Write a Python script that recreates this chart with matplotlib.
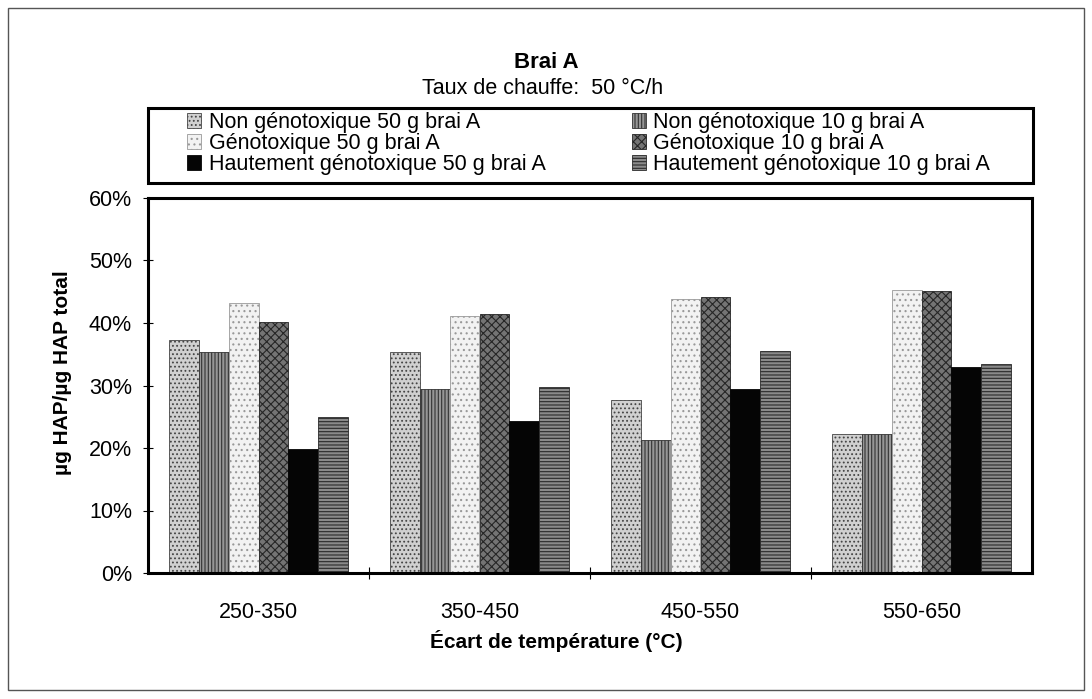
import matplotlib
matplotlib.use("Agg")
import matplotlib.pyplot as plt
from matplotlib.patches import Rectangle, Patch
import numpy as np

plt.rcParams['font.family'] = ['Liberation Sans', 'DejaVu Sans']
plt.rcParams['hatch.linewidth'] = 0.8

categories = ["250-350", "350-450", "450-550", "550-650"]
series_names = [
    "Non génotoxique 50 g brai A",
    "Non génotoxique 10 g brai A",
    "Génotoxique 50 g brai A",
    "Génotoxique 10 g brai A",
    "Hautement génotoxique 50 g brai A",
    "Hautement génotoxique 10 g brai A",
]
non_geno_50 = [37.2, 35.4, 27.7, 22.3]
non_geno_10 = [35.4, 29.4, 21.3, 22.2]
geno_50 = [43.2, 41.1, 43.8, 45.3]
geno_10 = [40.1, 41.4, 44.1, 45.1]
haut_geno_50 = [19.8, 24.3, 29.4, 33.0]
haut_geno_10 = [24.9, 29.8, 35.6, 33.4]
series = [non_geno_50, non_geno_10, geno_50, geno_10, haut_geno_50, haut_geno_10]

styles = [
    dict(fc='#d0d0d0', ec='#444444', hatch='....'),
    dict(fc='#969696', ec='#333333', hatch='|||||'),
    dict(fc='#f2f2f2', ec='#999999', hatch='...'),
    dict(fc='#747474', ec='#262626', hatch='xxxx'),
    dict(fc='#050505', ec='#050505', hatch=None),
    dict(fc='#8a8a8a', ec='#2a2a2a', hatch='-----'),
]

W, H = 1092, 699
fig = plt.figure(figsize=(W / 100, H / 100), dpi=100)

def fx(px):
    return px / W

def fy(py):
    return 1 - py / H

ax = fig.add_axes([fx(148), fy(573), fx(1032) - fx(148), fy(198) - fy(573)])

x = np.arange(len(categories))
bw = 0.135
handles = []
for i, (vals, st, name) in enumerate(zip(series, styles, series_names)):
    ax.bar(x + (i - 2.5) * bw, vals, bw, facecolor=st['fc'], edgecolor=st['ec'],
           hatch=st['hatch'], linewidth=0.6, zorder=2)
    handles.append(Patch(facecolor=st['fc'], edgecolor=st['ec'], hatch=st['hatch'],
                         linewidth=0.6, label=name))

ax.set_xlim(-0.5, len(categories) - 0.5)
ax.set_ylim(0, 60)
ax.set_yticks(np.arange(0, 61, 10))
ax.set_yticklabels([f"{v}%" for v in range(0, 61, 10)], fontsize=15.5)
ax.set_xticks(x)
ax.set_xticklabels(categories, fontsize=15.5)
ax.tick_params(axis='x', which='major', length=0, pad=21)
ax.set_xticks(np.arange(0.5, len(categories) - 1, 1.0), minor=True)
ax.tick_params(axis='x', which='minor', direction='inout', length=8, width=0.8)
ax.tick_params(axis='y', direction='inout', length=7, width=0.8, pad=8)
for s in ax.spines.values():
    s.set_linewidth(2.2)
    s.set_color('black')

fig.text(fx(63), fy(373), "µg HAP/µg HAP total", rotation=90, ha='center', va='center',
         fontsize=15, fontweight='bold')
fig.text(fx(556), fy(641), "Écart de température (°C)", ha='center', va='center',
         fontsize=15, fontweight='bold')

fig.text(fx(546), fy(62), "Brai A", ha='center', va='center', fontsize=16, fontweight='bold')
fig.text(fx(543), fy(89), "Taux de chauffe:  50 °C/h", ha='center', va='center', fontsize=15.5)

# legend box
fig.patches.append(Rectangle((fx(148), fy(183)), fx(1033) - fx(148), fy(108) - fy(183),
                             transform=fig.transFigure, fill=False, edgecolor='black',
                             linewidth=2.2))
order = [0, 2, 4, 1, 3, 5]
fig.legend([handles[k] for k in order], [series_names[k] for k in order],
           loc='upper left', bbox_to_anchor=(fx(187), fy(112)), ncol=2,
           frameon=False, fontsize=15.5, borderpad=0, borderaxespad=0,
           handlelength=0.65, handleheight=0.65, handletextpad=0.35,
           labelspacing=0.0, columnspacing=4.0)

# outer figure border
fig.patches.append(Rectangle((fx(8), fy(690)), fx(1084) - fx(8), fy(8) - fy(690),
                             transform=fig.transFigure, fill=False, edgecolor='#555555',
                             linewidth=1.0))

fig.savefig("out.png", dpi=100)
